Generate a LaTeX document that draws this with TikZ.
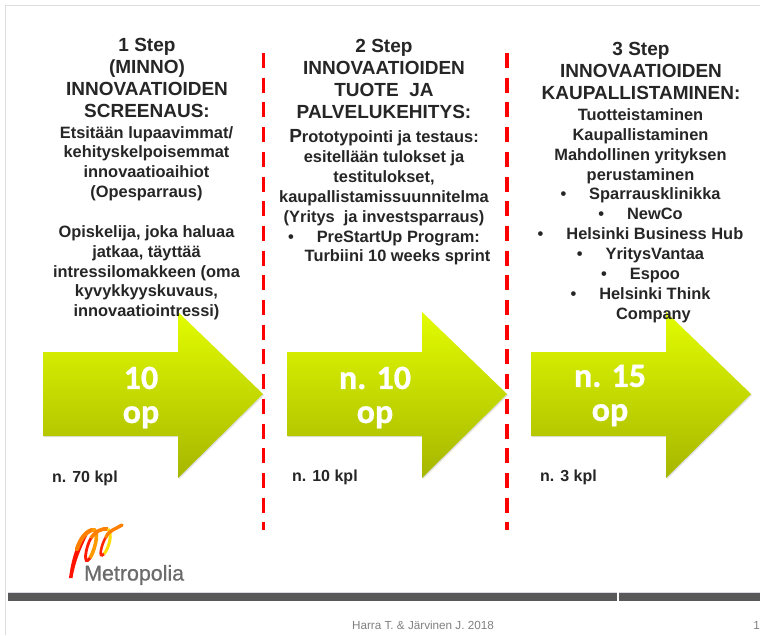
\documentclass[tikz,border=0pt]{standalone}
\usepackage{fontspec}
\setmainfont{Liberation Sans}
\newfontfamily\carl[BoldFeatures={FakeBold=0.8}]{Carlito}
\newfontfamily\logofont[FakeBold=0.7]{Liberation Sans}
\usetikzlibrary{shadows,calc}
\definecolor{txt}{HTML}{262626}
\definecolor{bar}{HTML}{595959}
\newcommand{\bul}[1]{•\hspace{#1pt}}
\tikzset{
  x=1pt,y=-1pt,
  headtxt/.style={font=\bfseries\fontsize{19}{22}\selectfont,text=txt,align=center,inner sep=0pt,anchor=north},
  bodytxt/.style={font=\bfseries\fontsize{16.4}{19.85}\selectfont,text=txt,align=center,inner sep=0pt,anchor=north},
  kpltxt/.style={font=\bfseries\fontsize{16}{18}\selectfont,text=txt,inner sep=0pt,anchor=west},
  optxt/.style={font=\carl\bfseries\fontsize{34}{34}\selectfont,text=white,align=center,inner sep=0pt},
  greenarrow/.style={top color=arrowtop,bottom color=arrowbot,draw=none,
    general shadow={fill=black!40,opacity=.3,shadow xshift=1pt,shadow yshift=-1.2pt}},
  sep/.style={draw=red,line width=3.2pt,dash pattern=on 15pt off 9.7pt},
  frameline/.style={draw=black!13,line width=1.2pt},
}
\definecolor{arrowtop}{HTML}{E2FC00}
\definecolor{arrowbot}{HTML}{A6B600}
\newcommand{\greenarrowat}[1]{%
  \path[greenarrow] (#1,352) -- ++(135,0) -- ++(0,-40) -- ++(85,82) -- ++(-85,84) -- ++(0,-42) -- ++(-135,0) -- cycle;}
\begin{document}
\begin{tikzpicture}
\useasboundingbox (0,0) rectangle (760,635);
\fill[white] (0,0) rectangle (760,635);
% frame
\coordinate (fa) at (5.5,635); \coordinate (fb) at (5.5,5.5); \coordinate (fc) at (760,5.5);
\draw[frameline] (fa) -- (fb) -- (fc);
% separators
\coordinate (s1a) at (263.5,53); \coordinate (s1b) at (263.5,530);
\coordinate (s2a) at (507,53); \coordinate (s2b) at (507,530);
% arrows
\greenarrowat{43}
\greenarrowat{287}
\greenarrowat{531}
\draw[sep] (s1a) -- (s1b);
\draw[sep] (s2a) -- (s2b);
% column 1
\node[headtxt] (h1) at (147,38) {1 Step\\(MINNO)\\INNOVAATIOIDEN\\SCREENAUS:};
\node[bodytxt] (b1) at (146.5,126) {Etsitään lupaavimmat/\\kehityskelpoisemmat\\innovaatioaihiot\\(Opesparraus)\\[19.85pt]Opiskelija, joka haluaa\\jatkaa, täyttää\\intressilomakkeen (oma\\kyvykkyyskuvaus,\\innovaatiointressi)};
% column 2
\node[headtxt] (h2) at (384,39) {2 Step\\INNOVAATIOIDEN\\TUOTE\ \ JA\\PALVELUKEHITYS:};
\node[bodytxt] (b2) at (384,129.5) {{\fontsize{19}{19.85}\selectfont P}rototypointi ja testaus:\\esitellään tulokset ja\\testitulokset,\\kaupallistamissuunnitelma\\(Yritys\ \ ja investsparraus)\\\bul{23}PreStartUp Program:\\\hspace{27pt}Turbiini 10 weeks sprint};
% column 3
\node[headtxt] (h3) at (641,42) {3 Step\\INNOVAATIOIDEN\\KAUPALLISTAMINEN:};
\node[bodytxt] (b3) at (640.5,108.5) {Tuotteistaminen\\Kaupallistaminen\\Mahdollinen yrityksen\\perustaminen\\\bul{23}Sparrausklinikka\\\bul{23}NewCo\\\bul{23}Helsinki Business Hub\\\bul{23}YritysVantaa\\\bul{23}Espoo\\\bul{23}Helsinki Think\\\hspace{26pt}Company};
% arrow labels
\node[optxt] (o1) at (141,397.5) {10\\op};
\node[optxt] (o2) at (375,397.5) {n. 10\\op};
\node[optxt] (o3) at (610,395.5) {n. 15\\op};
\node[kpltxt] (k1) at (52,478) {n. 70 kpl};
\node[kpltxt] (k2) at (292,477) {n. 10 kpl};
\node[kpltxt] (k3) at (540,477) {n. 3 kpl};
% logo
\fill[red!85!orange] (69,578) .. controls (72,555) and (78,538) .. (90,529) .. controls (85,541) and (76,556) .. (72.5,578) -- cycle;
\draw[orange,line width=4.2pt,line cap=round] (77,549) .. controls (80,540) and (85,532) .. (92,530);
\draw[orange!80!yellow,line width=3.6pt] (92,530) .. controls (100,527) and (96,548) .. (90,558);
\draw[red!80!orange,line width=2.8pt] (90,558) .. controls (83,568) and (85,548) .. (91,538);
\draw[orange,line width=3.6pt] (91,538) .. controls (96,531) and (102,528) .. (108,529);
\draw[yellow!80!orange,line width=3pt] (108,529) .. controls (113,533) and (109,548) .. (104,554);
\draw[red!70!orange,line width=2.6pt] (104,554) .. controls (98,560) and (101,545) .. (106,537);
\draw[orange,line width=3.4pt,line cap=round] (106,537) .. controls (109,530) and (116,529) .. (122,525);
\node[font=\logofont\fontsize{21.4}{24}\selectfont,text=black!58,inner sep=0pt,anchor=west] (logo) at (84,575) {Metropolia};
% footer
\fill[bar] (8,592.5) rectangle (617,600.5);
\fill[bar] (619,592.5) rectangle (760,600.5);
\fill[blue!30!black!15] (8,592) rectangle (617,593);
\fill[blue!30!black!15] (619,592) rectangle (760,593);
\node[font=\fontsize{11.7}{13}\selectfont,text=black!50,inner sep=0pt] (foot) at (423,625) {Harra T. \& Järvinen J. 2018};
\node[font=\fontsize{11.7}{13}\selectfont,text=black!50,inner sep=0pt,anchor=east] (pg) at (760,625) {1};
\end{tikzpicture}
\end{document}
